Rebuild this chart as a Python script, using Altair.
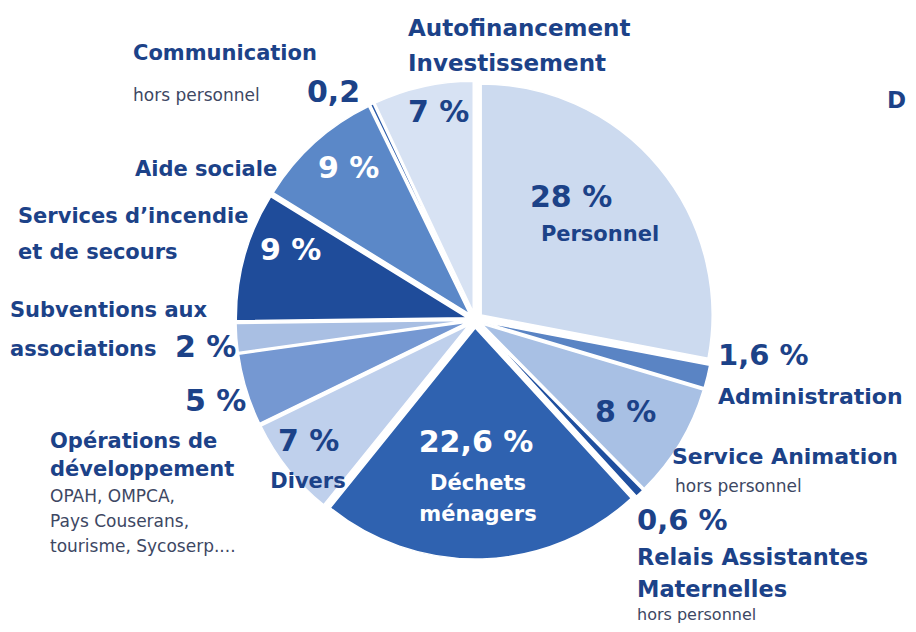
import altair as alt
import pandas as pd

# ---- data (clockwise from 12 o'clock) ----
categories = ["Personnel", "Administration", "Service Animation",
              "Relais Assistantes Maternelles", "Déchets ménagers", "Divers",
              "Opérations de développement", "Subventions aux associations",
              "Services d'incendie et de secours", "Aide sociale",
              "Communication", "Autofinancement Investissement"]
values = [28, 1.6, 8, 0.6, 22.6, 7, 5, 2, 9, 9, 0.2, 7]

palette = ["#ccdaef", "#5a84c4", "#a8c0e4", "#1f4f9f", "#2f62b0", "#bfd0ec",
           "#7598d2", "#a9bfe3", "#1f4c9a", "#5b88c8", "#2a5aa8", "#d7e2f3"]

NAVY = "#1c4288"
GREY = "#3d4763"
FONT = "DejaVu Sans"

# pie geometry (chart coords; page = chart + 8)
CX, CY, R, E = 475 - 8, 320 - 8, 231, 8

df = pd.DataFrame({"cat": categories, "value": values, "idx": list(range(len(values)))})

pie = alt.Chart(df).transform_window(
    cum="sum(value)", sort=[alt.SortField("idx")], frame=[None, 0]
).transform_joinaggregate(
    total="sum(value)"
).transform_calculate(
    t0="2*PI*(datum.cum-datum.value)/datum.total"
).transform_calculate(
    t1="2*PI*datum.cum/datum.total"
).transform_calculate(
    mid="(datum.t0+datum.t1)/2"
).transform_calculate(
    cx=f"{CX}+{E}*sin(datum.mid)",
    cy=f"{CY}-{E}*cos(datum.mid)",
).mark_arc(radius=R, stroke="white", strokeWidth=1.5).encode(
    theta=alt.Theta("t0:Q", scale=None),
    theta2="t1:Q",
    x=alt.X("cx:Q", scale=None, axis=None),
    y=alt.Y("cy:Q", scale=None, axis=None),
    color=alt.Color("cat:N", scale=alt.Scale(domain=categories, range=palette), legend=None),
    order=alt.Order("idx:Q"),
)

# ---- annotation texts (page coordinates, baseline) ----
bold_left = [
    ("Communication", 133, 60, 21, NAVY),
    ("Autofinancement", 408, 36, 23, NAVY),
    ("Investissement", 408, 71, 23, NAVY),
    ("Aide sociale", 135, 176, 21, NAVY),
    ("Services d\u2019incendie", 18, 223, 21, NAVY),
    ("et de secours", 18, 259, 21, NAVY),
    ("Subventions aux", 10, 317, 21, NAVY),
    ("associations", 10, 356, 21, NAVY),
    ("Opérations de", 50, 448, 21, NAVY),
    ("développement", 50, 476, 21, NAVY),
    ("Administration", 718, 404, 22, NAVY),
    ("Service Animation", 672, 464, 22, NAVY),
    ("Relais Assistantes", 637, 565, 22.5, NAVY),
    ("Maternelles", 637, 597, 22.5, NAVY),
    ("0,2", 307, 102, 30, NAVY),
    ("7 %", 408, 122, 30, NAVY),
    ("2 %", 175, 357, 30, NAVY),
    ("5 %", 185, 411, 30, NAVY),
    ("7 %", 278, 451, 30, NAVY),
    ("28 %", 530, 207, 30, NAVY),
    ("8 %", 595, 422, 30, NAVY),
    ("1,6 %", 718, 365, 29, NAVY),
    ("0,6 %", 637, 530, 29, NAVY),
    ("9 %", 318, 178, 30, "white"),
    ("9 %", 260, 260, 30, "white"),
    ("D", 887, 108, 23, NAVY),
]
bold_center = [
    ("Personnel", 600, 241, 21, NAVY),
    ("Divers", 308, 488, 21, NAVY),
    ("22,6 %", 476, 452, 30, "white"),
    ("Déchets", 478, 490, 21, "white"),
    ("ménagers", 478, 521, 21, "white"),
]
normal_left = [
    ("hors personnel", 133, 101, 17, GREY),
    ("hors personnel", 675, 492, 17, GREY),
    ("OPAH, OMPCA,", 50, 502, 17, GREY),
    ("Pays Couserans,", 50, 527, 17, GREY),
    ("tourisme, Sycoserp....", 50, 552, 17, GREY),
    ("hors personnel", 637, 620, 16, GREY),
]


def text_layer(items, weight, align):
    d = pd.DataFrame({
        "t": [i[0] for i in items],
        "x": [i[1] - 8 for i in items],
        "y": [i[2] - 8 for i in items],
        "s": [i[3] for i in items],
        "c": [i[4] for i in items],
    })
    return alt.Chart(d).mark_text(
        font=FONT, fontWeight=weight, align=align, baseline="alphabetic"
    ).encode(
        x=alt.X("x:Q", scale=None, axis=None),
        y=alt.Y("y:Q", scale=None, axis=None),
        text="t:N",
        size=alt.Size("s:Q", scale=None, legend=None),
        color=alt.Color("c:N", scale=None, legend=None),
    )


chart = alt.layer(
    pie,
    text_layer(bold_left, "bold", "left"),
    text_layer(bold_center, "bold", "center"),
    text_layer(normal_left, "normal", "left"),
).properties(
    width=900, height=616, autosize=alt.AutoSizeParams(type="none"), padding=0
).configure_view(stroke=None)

chart.save("out.html", embed_options={"renderer": "svg", "actions": False})
